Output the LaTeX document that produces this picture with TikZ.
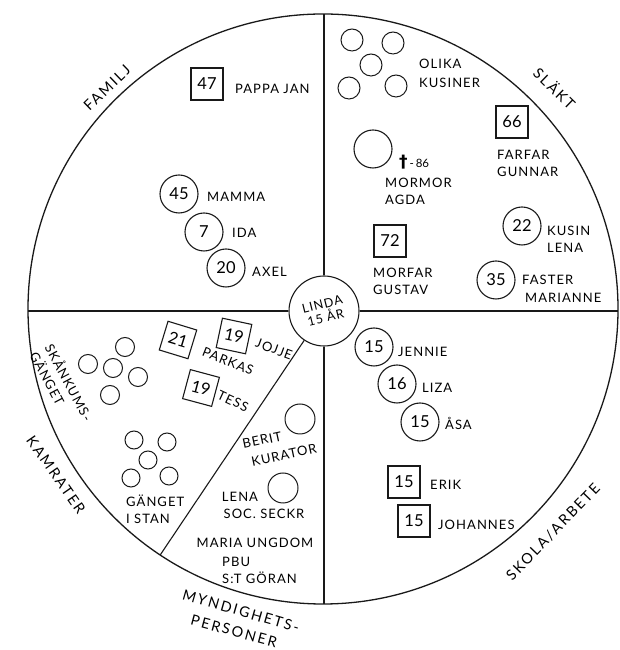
\documentclass[tikz,border=0pt]{standalone}
\usepackage{fontspec}
\setmainfont{Lato}
\newfontfamily\lspfont[LetterSpace=8]{Lato}
\newfontfamily\catspfont[LetterSpace=14]{Lato}
\newfontfamily\djfont{DejaVu Sans}
\usetikzlibrary{calc}
\newcommand\txf{\lspfont\fontsize{13}{17}\selectfont}
\newcommand\numf{\fontsize{16.5}{18}\selectfont}
\newcommand\catf{\catspfont\fontsize{14.5}{22}\selectfont}
\colorlet{ink}{black!90}
\begin{document}
\begin{tikzpicture}[x=1pt,y=1pt,
  every node/.style={inner sep=0pt, text=black},
  lw/.style={line width=1.1pt, draw=ink},
  txt/.style={font=\txf, align=left},
  cat/.style={font=\catf, align=center},
  agec/.style={draw=ink, circle, line width=1.1pt, minimum size=38pt, font=\numf},
  ageb/.style={draw=ink, rectangle, line width=1.1pt, minimum size=32pt, font=\numf},
  grp/.style={draw=ink, circle, line width=1pt, minimum size=22pt},
  grps/.style={draw=ink, circle, line width=1pt, minimum size=19pt},
  perc/.style={draw=ink, circle, line width=1pt, minimum size=30pt},
]
\useasboundingbox (0,0) rectangle (620,650);
\coordinate (C) at (323,341);
\draw[line width=1.3pt, draw=ink] (C) circle[radius=295];

% centre
\node[draw=ink, circle, line width=1.1pt, minimum size=70pt, fill=white] (L) at (324,339) {};
\node[txt, align=center, rotate=14, font=\lspfont\fontsize{12.5}{14}\selectfont] (Ltx) at (L) {LINDA\\15 ÅR};

\coordinate (T) at (324,636);
\coordinate (B) at (324,46);
\coordinate (W) at (28,339);
\coordinate (E) at (618,339);
\coordinate (D) at ($(C)+(236.5:295)$);
\draw[lw] (L.north) -- (T);
\draw[lw] (L.south) -- (B);
\draw[lw] (L.west) -- (W);
\draw[lw] (L.east) -- (E);
\draw[lw] (L.236.5) -- (D);

% category labels
\node[cat, rotate=44] (lfam) at (107,562) {FAMILJ};
\node[cat, rotate=-44] (lsla) at (555,562) {SLÄKT};
\node[cat, rotate=-55] (lkam) at (56,175) {KAMRATER};
\node[cat, rotate=46] (lsko) at (553,118) {SKOLA/ARBETE};
\node[cat, rotate=-16] (lmyn) at (241,39) {MYNDIGHETS-};
\node[cat, rotate=-15] (lper) at (234,19) {PERSONER};

% FAMILJ
\node[ageb] (b47) at (207,566) {47};
\node[txt, anchor=west] (t47) at (235,561) {PAPPA JAN};
\node[agec] (c45) at (179,456) {45};
\node[txt, anchor=west] (t45) at (207,453) {MAMMA};
\node[agec] (c7) at (204,418) {7};
\node[txt, anchor=west] (t7) at (232,417) {IDA};
\node[agec] (c20) at (226,382) {20};
\node[txt, anchor=west] (t20) at (252,378) {AXEL};

% SLÄKT
\node[grp] (k1) at (352,610) {};
\node[grp] (k2) at (393,607) {};
\node[grp] (k3) at (371,585) {};
\node[grp] (k4) at (349,562) {};
\node[grp] (k5) at (396,564) {};
\node[txt, anchor=west] (tk) at (419,577) {OLIKA\\[2pt]KUSINER};
\node[ageb] (b66) at (512,528) {66};
\node[txt, anchor=west] (t66) at (497,487) {FARFAR\\GUNNAR};
\node[agec] (cmm) at (373,501) {};
\node[anchor=west] (dag) at (399,488) {{\djfont\bfseries\fontsize{17}{17}\selectfont †}{\fontsize{11.5}{12}\selectfont\,-\,86}};
\node[txt, anchor=west] (tmm) at (385,459) {MORMOR\\AGDA};
\node[ageb] (b72) at (390,409) {72};
\node[txt, anchor=west] (t72) at (373,369) {MORFAR\\GUSTAV};
\node[agec] (c22) at (522,424) {22};
\node[txt, anchor=west] (t22) at (547,411) {KUSIN\\LENA};
\node[agec] (c35) at (496,370) {35};
\node[txt, anchor=west] (t35a) at (522,370) {FASTER};
\node[txt, anchor=west] (t35b) at (525,352) {MARIANNE};

% SKOLA/ARBETE
\node[agec] (cj) at (374,303) {15};
\node[txt, anchor=west] (tj) at (398,298) {JENNIE};
\node[agec] (cl) at (397,266) {16};
\node[txt, anchor=west] (tl) at (422,262) {LIZA};
\node[agec] (ca) at (420,228) {15};
\node[txt, anchor=west] (ta) at (445,227) {ÅSA};
\node[ageb] (be) at (404,168) {15};
\node[txt, anchor=west] (te) at (430,165) {ERIK};
\node[ageb] (bjo) at (414,129) {15};
\node[txt, anchor=west] (tjo) at (438,125) {JOHANNES};

% KAMRATER
\node[grps] (s1) at (125,303) {};
\node[grps] (s2) at (88,286) {};
\node[grps] (s3) at (113,282) {};
\node[grps] (s4) at (138,273) {};
\node[grps] (s5) at (110,255) {};
\node[txt, rotate=-62] (ts) at (62,264) {SKÅNKUMS-\\GÄNGET};
\node[ageb, minimum size=30pt, rotate=-17] (b21) at (178,310) {21};
\node[ageb, minimum size=30pt, rotate=-12] (b19a) at (234,314) {19};
\node[txt, rotate=-20] (tjoj) at (274,301) {JOJJE};
\node[txt, rotate=-22] (tpar) at (228,289) {PARKAS};
\node[ageb, minimum size=30pt, rotate=-15] (b19b) at (201,262) {19};
\node[txt, rotate=-25] (ttes) at (233,249) {TESS};
\node[grps, minimum size=18pt] (g1) at (134,210) {};
\node[grps, minimum size=18pt] (g2) at (167,208) {};
\node[grps, minimum size=18pt] (g3) at (148,190) {};
\node[grps, minimum size=18pt] (g4) at (131,172) {};
\node[grps, minimum size=18pt] (g5) at (169,174) {};
\node[txt, anchor=west] (tg) at (126,141) {GÄNGET\\I STAN};

% MYNDIGHETSPERSONER
\node[perc] (cb) at (300,231) {};
\node[txt, rotate=12] (tb1) at (262,210) {BERIT};
\node[txt, rotate=12] (tb2) at (284,195) {KURATOR};
\node[perc] (cln) at (283,162) {};
\node[txt] (tln1) at (240,153) {LENA};
\node[txt] (tln2) at (264,136) {SOC. SECKR};
\node[txt] (tm1) at (255,107) {MARIA UNGDOM};
\node[txt, anchor=west] (tm2) at (222,88) {PBU};
\node[txt, anchor=west] (tm3) at (222,72) {S:T GÖRAN};
\end{tikzpicture}
\end{document}
